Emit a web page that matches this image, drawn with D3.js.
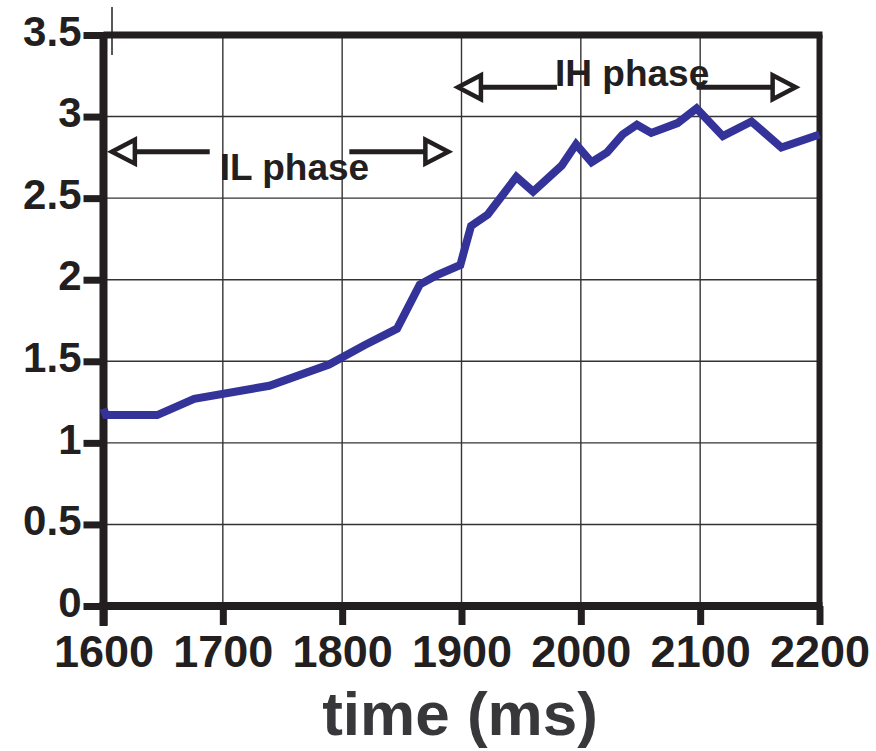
<!DOCTYPE html>
<html>
<head>
<meta charset="utf-8">
<script src="https://cdn.jsdelivr.net/npm/d3@7"></script>
<style>
  body { margin: 0; background: #fff; }
  svg text { font-family: "Liberation Sans", Arial, sans-serif; font-weight: bold; }
</style>
</head>
<body>
<svg id="chart" width="876" height="751"></svg>
<script>
// values
const timeMs = [1600, 1602, 1645, 1676, 1739, 1789, 1819, 1846, 1865, 1880, 1899,
                1908, 1922, 1946, 1960, 1984, 1996, 2009, 2022, 2035, 2047, 2059,
                2081, 2097, 2119, 2143, 2168, 2200];
const ratio = [1.21, 1.17, 1.17, 1.27, 1.35, 1.48, 1.60, 1.70, 1.97, 2.03, 2.09,
               2.33, 2.40, 2.63, 2.54, 2.70, 2.83, 2.72, 2.78, 2.89, 2.95, 2.90,
               2.96, 3.05, 2.88, 2.97, 2.81, 2.89];
const xTicks = [1600, 1700, 1800, 1900, 2000, 2100, 2200];
const yTicks = [0, 0.5, 1, 1.5, 2, 2.5, 3, 3.5];
const yTickLabels = ["0", "0.5", "1", "1.5", "2", "2.5", "3", "3.5"];

// phase annotations: arrow from x0 to x1 at y, label splits line between gapL..gapR
const phaseNames = ["IL phase", "IH phase"];
const phaseX0 = [1607, 1897];
const phaseX1 = [1889, 2180];
const phaseGapL = [1689, 1980];
const phaseGapR = [1806, 2097];
const phaseY = [2.785, 3.18];
const phaseLabelX = [1760, 2043];

const svg = d3.select("#chart");
const ink = "#231f20";

const x = d3.scaleLinear().domain([1600, 2200]).range([103.5, 819.5]);
const y = d3.scaleLinear().domain([0, 3.5]).range([606, 35]);

// grid
const grid = svg.append("g");
grid.selectAll(".vg").data(xTicks.slice(1, -1)).enter().append("line")
  .attr("x1", d => x(d)).attr("x2", d => x(d))
  .attr("y1", y(3.5)).attr("y2", y(0))
  .attr("stroke", "#333").attr("stroke-width", 1.4);
grid.selectAll(".hg").data(yTicks.slice(1, -1)).enter().append("line")
  .attr("x1", x(1600)).attr("x2", x(2200))
  .attr("y1", d => y(d)).attr("y2", d => y(d))
  .attr("stroke", "#333").attr("stroke-width", 1.4);

// frame
svg.append("line").attr("x1", x(1600)).attr("x2", x(2200) + 3)
  .attr("y1", y(3.5)).attr("y2", y(3.5)).attr("stroke", ink).attr("stroke-width", 7);
svg.append("line").attr("x1", x(2200)).attr("x2", x(2200))
  .attr("y1", y(3.5)).attr("y2", y(0)).attr("stroke", ink).attr("stroke-width", 6);

// stray mark near the top-left corner
svg.append("line").attr("x1", 112).attr("x2", 112).attr("y1", 7).attr("y2", 55)
  .attr("stroke", ink).attr("stroke-width", 1.5);

// axes
const xAxis = d3.axisBottom(x).tickValues(xTicks).tickSize(19).tickPadding(10)
  .tickFormat(d3.format("d"));
const gx = svg.append("g").attr("transform", `translate(0,${y(0)})`).call(xAxis);
gx.select(".domain").attr("stroke", ink).attr("stroke-width", 8)
  .attr("d", `M${x(1600) - 4},0H${x(2200) + 3}`);
gx.selectAll(".tick line").attr("stroke", ink).attr("stroke-width", 7);
gx.selectAll(".tick text").attr("fill", ink).attr("font-size", 45)
  .attr("dy", "0.71em").attr("y", 29);

const yAxis = d3.axisLeft(y).tickValues(yTicks).tickSize(20).tickPadding(4)
  .tickFormat((d, i) => yTickLabels[i]);
const gy = svg.append("g").attr("transform", `translate(${x(1600)},0)`).call(yAxis);
gy.select(".domain").attr("stroke", ink).attr("stroke-width", 8)
  .attr("d", `M0,${y(3.5) - 3}V${y(0) + 20}`);
gy.selectAll(".tick line").attr("stroke", ink).attr("stroke-width", 7);
gy.selectAll(".tick text").attr("fill", ink).attr("font-size", 42)
  .attr("x", -22).attr("y", -4).attr("dy", "0.34em");

// data line
const line = d3.line().x((d, i) => x(timeMs[i])).y(d => y(d));
svg.append("path").datum(ratio)
  .attr("d", line)
  .attr("fill", "none")
  .attr("stroke", "#333399")
  .attr("stroke-width", 8)
  .attr("stroke-linejoin", "miter");

// phase arrows
const ann = svg.append("g");
phaseNames.forEach((name, i) => {
  const yy = y(phaseY[i]);
  const xl = x(phaseX0[i]), xr = x(phaseX1[i]);
  const head = 23, half = 12;
  ann.append("path")
    .attr("d", `M${xl + head},${yy}H${x(phaseGapL[i])}M${x(phaseGapR[i])},${yy}H${xr - head}`)
    .attr("stroke", ink).attr("stroke-width", 5).attr("fill", "none");
  ann.append("path")
    .attr("d", `M${xl},${yy}L${xl + head},${yy - half}L${xl + head},${yy + half}Z`)
    .attr("stroke", ink).attr("stroke-width", 4.5).attr("fill", "#fff")
    .attr("stroke-linejoin", "miter");
  ann.append("path")
    .attr("d", `M${xr},${yy}L${xr - head},${yy - half}L${xr - head},${yy + half}Z`)
    .attr("stroke", ink).attr("stroke-width", 4.5).attr("fill", "#fff")
    .attr("stroke-linejoin", "miter");
  ann.append("text")
    .attr("x", x(phaseLabelX[i]))
    .attr("y", i === 0 ? yy + 28 : yy - 1)
    .attr("text-anchor", "middle")
    .attr("font-size", 37)
    .attr("fill", ink)
    .text(name);
});

// x axis title
svg.append("text")
  .attr("x", 460).attr("y", 735)
  .attr("text-anchor", "middle")
  .attr("font-size", 62)
  .attr("fill", "#38383a")
  .text("time (ms)");
</script>
</body>
</html>
